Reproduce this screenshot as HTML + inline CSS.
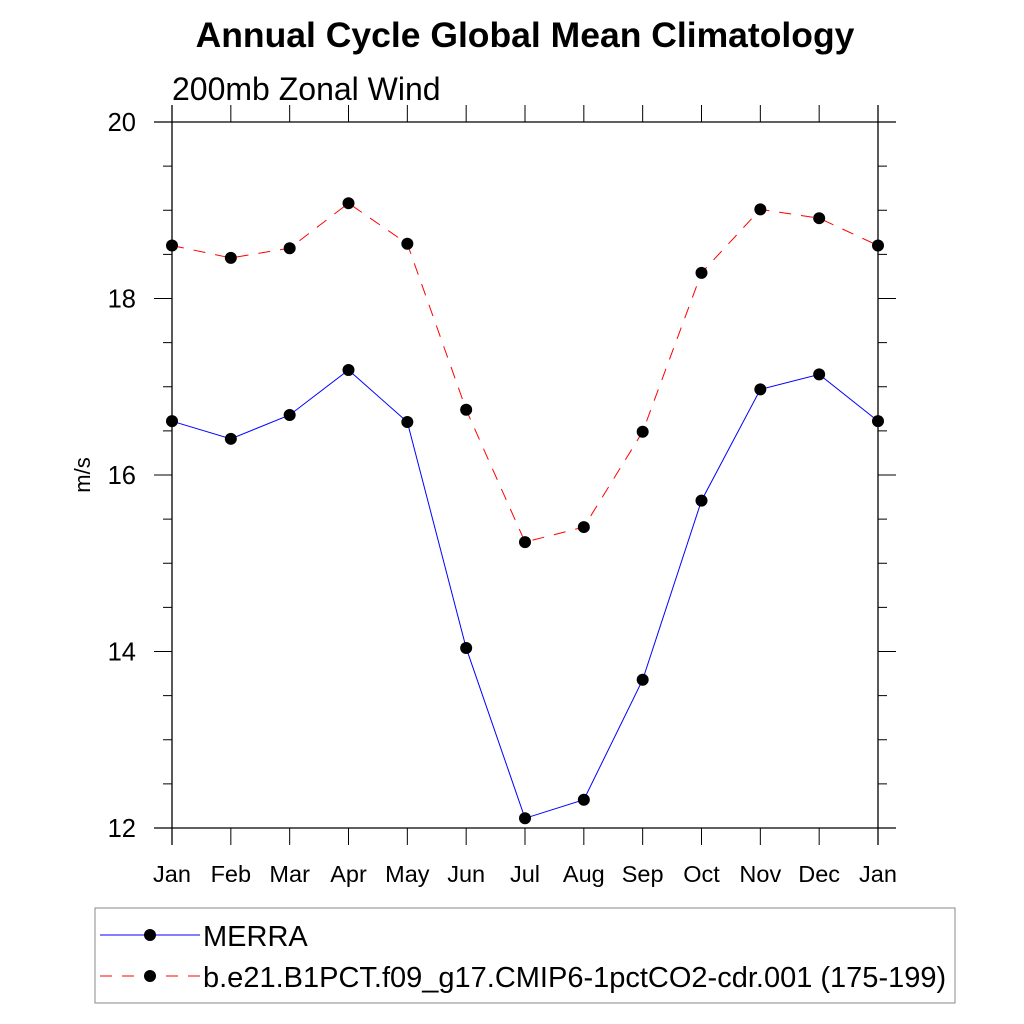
<!DOCTYPE html>
<html><head><meta charset="utf-8"><style>body{margin:0;background:#fff}svg{display:block}text{font-family:"Liberation Sans",sans-serif}</style></head>
<body>
<svg id="chart" width="1024" height="1024" xmlns="http://www.w3.org/2000/svg">
<text x="525" y="47" text-anchor="middle" font-size="35.5" font-weight="bold">Annual Cycle Global Mean Climatology</text>
<text x="172" y="100" font-size="32">200mb Zonal Wind</text>
<text transform="translate(90,475) rotate(-90)" text-anchor="middle" font-size="22">m/s</text>
<g id="axes"></g>
<g id="series"></g>
<rect x="95" y="908" width="860" height="95" fill="none" stroke="#888" stroke-width="1"/>
<line x1="100" y1="935" x2="200" y2="935" stroke="#00f" stroke-width="1"/>
<circle cx="150" cy="935" r="6" fill="#000"/>
<text x="203" y="946" font-size="29">MERRA</text>
<line x1="100" y1="976" x2="200" y2="976" stroke="#f00" stroke-width="1" stroke-dasharray="12,10"/>
<circle cx="150" cy="976" r="6" fill="#000"/>
<text x="203" y="987" font-size="29">b.e21.B1PCT.f09_g17.CMIP6-1pctCO2-cdr.001 (175-199)</text>
</svg>
<script>
const months = ["Jan","Feb","Mar","Apr","May","Jun","Jul","Aug","Sep","Oct","Nov","Dec","Jan"];
const merra = [16.61,16.41,16.68,17.19,16.60,14.04,12.11,12.32,13.68,15.71,16.97,17.14,16.61];
const model = [18.60,18.46,18.57,19.08,18.62,16.74,15.24,15.41,16.49,18.29,19.01,18.91,18.60];
const yTicks = [12,14,16,18,20];
const NS="http://www.w3.org/2000/svg";
const X0=172,X1=878,Y0=828,Y1=122,YMIN=12,YMAX=20;
function xs(i){return X0+(X1-X0)*i/(months.length-1);}
function ys(v){return Y0-(v-YMIN)/(YMAX-YMIN)*(Y0-Y1);}
function mk(tag,attrs,parent){const e=document.createElementNS(NS,tag);for(const k in attrs)e.setAttribute(k,attrs[k]);parent.appendChild(e);return e;}
const ax=document.getElementById('axes');
const st={stroke:"#000","stroke-width":1.3};
let e;
e=mk('line',Object.assign({x1:154,y1:Y1,x2:896,y2:Y1},st),ax);


e=mk('line',Object.assign({x1:154,y1:Y0,x2:896,y2:Y0},st),ax);


e=mk('line',Object.assign({x1:X0,y1:Y1-17,x2:X0,y2:Y0+17},st),ax);


e=mk('line',Object.assign({x1:X1,y1:Y1-17,x2:X1,y2:Y0+17},st),ax);


months.forEach((m,i)=>{const x=xs(i);
 e=mk('line',{x1:x,y1:Y1,x2:x,y2:Y1-17,stroke:"#000","stroke-width":1},ax);
 
 
 e=mk('line',{x1:x,y1:Y0,x2:x,y2:Y0+17,stroke:"#000","stroke-width":1},ax);
 
 
 e=mk('text',{x:x,y:882,"text-anchor":"middle","font-size":23.5},ax);e.textContent=m;
 
 
});
for(let v=YMIN;v<=YMAX+1e-9;v+=0.5){const y=ys(v);const major=yTicks.includes(v);
 e=mk('line',{x1:X0,y1:y,x2:X0-(major?18:9),y2:y,stroke:"#000","stroke-width":1},ax);
 
 
 e=mk('line',{x1:X1,y1:y,x2:X1+(major?18:9),y2:y,stroke:"#000","stroke-width":1},ax);
 
 
}
yTicks.forEach(v=>{e=mk('text',{x:136,y:ys(v)+9,"text-anchor":"end","font-size":25.5},ax);e.textContent=v;
 
 });
const sg=document.getElementById('series');
function draw(vals,color,dash,name){
 const pts=vals.map((v,i)=>xs(i)+","+ys(v)).join(" ");
 const a={points:pts,fill:"none",stroke:color,"stroke-width":1};if(dash)a["stroke-dasharray"]=dash;
 e=mk('polyline',a,sg);
 
 
 vals.forEach((v,i)=>{e=mk('circle',{cx:xs(i),cy:ys(v),r:6,fill:"#000"},sg);
  
  });
}
draw(merra,"#00f",null,"merra");
draw(model,"#f00","12,10","model");
</script>
</body></html>
